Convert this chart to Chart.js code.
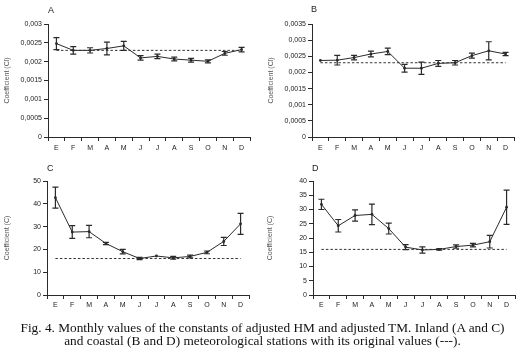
<!DOCTYPE html>
<html lang="en">
<head>
  <meta charset="UTF-8">
  <title>Fig. 4</title>
  <script src="https://cdn.jsdelivr.net/npm/chart.js"></script>
  <style>
    body { margin: 0; width: 525px; height: 361px; background: #fff; position: relative; overflow: hidden; }
    .panel { position: absolute; }
    .letter { position: absolute; font-family: 'Liberation Sans', Arial, sans-serif; font-size: 9px; color: #222; }
    .caption {
      position: absolute; left: 0; top: 321px; width: 525px; text-align: center;
      font-family: 'Liberation Serif', 'Times New Roman', serif; font-size: 13.3px; line-height: 13px; color: #111;
    }
  </style>
</head>
<body>

<div class="panel" style="left:0;top:0;width:262px;height:160px"><canvas id="chartA"></canvas></div>
<div class="panel" style="left:262px;top:0;width:263px;height:160px"><canvas id="chartB"></canvas></div>
<div class="panel" style="left:0;top:155px;width:262px;height:160px"><canvas id="chartC"></canvas></div>
<div class="panel" style="left:262px;top:155px;width:263px;height:160px"><canvas id="chartD"></canvas></div>

<div class="letter" style="left:48px;top:5px">A</div>
<div class="letter" style="left:311px;top:4px">B</div>
<div class="letter" style="left:47px;top:163px">C</div>
<div class="letter" style="left:312px;top:163px">D</div>

<div class="caption">Fig. 4. Monthly values of the constants of adjusted HM and adjusted TM. Inland (A and C)<br>and coastal (B and D) meteorological stations with its original values (---).</div>

<script>
  const months = ['E', 'F', 'M', 'A', 'M', 'J', 'J', 'A', 'S', 'O', 'N', 'D'];

  // A: inland, Cl
  const aMean = [0.00248, 0.00230, 0.00230, 0.00235, 0.00242, 0.00210, 0.00214, 0.00207, 0.00204, 0.00201, 0.00222, 0.00232];
  const aErr  = [0.00016, 0.00010, 0.00007, 0.00017, 0.00012, 0.00006, 0.00006, 0.00005, 0.00005, 0.00004, 0.00005, 0.00006];
  const aRef = 0.0023;
  const yTicksA = ['0', '0,0005', '0,001', '0,0015', '0,002', '0,0025', '0,003'];

  // B: coastal, Cl
  const bMean = [0.00237, 0.00238, 0.00246, 0.00257, 0.00265, 0.00213, 0.00213, 0.00228, 0.00230, 0.00252, 0.00267, 0.00257];
  const bErr  = [0.00002, 0.00015, 0.00007, 0.00009, 0.00010, 0.00012, 0.00019, 0.00009, 0.00007, 0.00008, 0.00028, 0.00005];
  const bRef = 0.0023;
  const yTicksB = ['0', '0,0005', '0,001', '0,0015', '0,002', '0,0025', '0,003', '0,0035'];

  // C: inland, C
  const cMean = [42.7, 27.6, 27.8, 22.6, 19.0, 16.0, 17.1, 16.3, 16.9, 18.7, 23.5, 31.2];
  const cErr  = [4.6, 2.8, 2.7, 0.5, 1.0, 0.5, 0.3, 0.6, 0.6, 0.6, 1.8, 4.6];
  const cRef = 16;
  const yTicksC = ['0', '10', '20', '30', '40', '50'];

  // D: coastal, C
  const dMean = [31.8, 24.3, 27.9, 28.3, 23.3, 16.8, 15.8, 16.0, 17.0, 17.5, 18.7, 30.8];
  const dErr  = [1.8, 2.2, 2.0, 3.6, 1.9, 0.9, 1.1, 0.3, 0.6, 0.6, 2.2, 6.0];
  const dRef = 16;
  const yTicksD = ['0', '5', '10', '15', '20', '25', '30', '35', '40'];

  const ink = '#2a2a2a';
  const font = { family: "'Liberation Sans', Arial, sans-serif", size: 7 };

  // vertical error bars with caps, drawn through the y scale
  const errorBars = {
    id: 'errorBars',
    afterDatasetsDraw(chart, args, opts) {
      const errs = opts.errs;
      if (!errs) return;
      const meta = chart.getDatasetMeta(1);
      const y = chart.scales.y;
      const vals = chart.data.datasets[1].data;
      const c = chart.ctx;
      c.save();
      c.strokeStyle = ink;
      c.lineWidth = 1.2;
      meta.data.forEach((pt, i) => {
        if (!errs[i]) return;
        const y1 = y.getPixelForValue(vals[i] + errs[i]);
        const y2 = y.getPixelForValue(vals[i] - errs[i]);
        if (y2 - y1 < 1.5) return;
        c.beginPath();
        c.moveTo(pt.x, y1); c.lineTo(pt.x, y2);
        c.moveTo(pt.x - 3, y1); c.lineTo(pt.x + 3, y1);
        c.moveTo(pt.x - 3, y2); c.lineTo(pt.x + 3, y2);
        c.stroke();
      });
      c.restore();
    }
  };

  function makeChart(id, mean, errs, ref, max, step, tickLabels, yTitle, g) {
    return new Chart(document.getElementById(id), {
      type: 'line',
      data: {
        labels: months,
        datasets: [
          {
            data: months.map(() => ref),
            borderColor: '#333',
            borderWidth: 1,
            borderDash: [2.5, 2],
            pointRadius: 0
          },
          {
            data: mean,
            borderColor: ink,
            borderWidth: 1,
            pointRadius: 1.4,
            pointBackgroundColor: ink,
            pointBorderWidth: 0,
            tension: 0
          }
        ]
      },
      options: {
        responsive: true,
        maintainAspectRatio: false,
        animation: false,
        layout: { padding: { top: g.top, right: g.right, left: 0, bottom: 0 } },
        plugins: {
          legend: { display: false },
          tooltip: { enabled: false },
          errorBars: { errs: errs }
        },
        scales: {
          x: {
            type: 'category',
            offset: true,
            grid: { offset: true, drawOnChartArea: false, drawTicks: true, tickLength: 4, color: ink },
            border: { display: true, color: ink, width: 1 },
            ticks: { font: font, color: '#222', padding: g.xpad, maxRotation: 0, autoSkip: false },
            afterFit: s => { s.height = g.xh; }
          },
          y: {
            min: 0,
            max: max,
            grid: { drawOnChartArea: false, drawTicks: true, tickLength: 4, color: ink },
            border: { display: true, color: ink, width: 1 },
            ticks: {
              stepSize: step,
              font: font,
              color: '#222',
              padding: 2,
              callback: (v, i) => tickLabels[i]
            },
            title: { display: true, text: yTitle, font: font, color: '#555', padding: { top: g.tpad, bottom: 0 } },
            afterFit: s => { s.width = g.yw; }
          }
        }
      },
      plugins: [errorBars]
    });
  }

  makeChart('chartA', aMean, aErr, aRef, 0.003, 0.0005, yTicksA, 'Coefficient (Cl)', { top: 24, right: 12, xh: 23, yw: 48, xpad: 3, tpad: 3 });
  makeChart('chartB', bMean, bErr, bRef, 0.0035, 0.0005, yTicksB, 'Coefficient (Cl)', { top: 24, right: 11, xh: 23, yw: 50, xpad: 3, tpad: 5 });
  makeChart('chartC', cMean, cErr, cRef, 50, 10, yTicksC, 'Coefficient (C)', { top: 26, right: 13, xh: 20, yw: 47, xpad: 2, tpad: 3 });
  makeChart('chartD', dMean, dErr, dRef, 40, 5, yTicksD, 'Coefficient (C)', { top: 26, right: 10, xh: 20, yw: 51, xpad: 2, tpad: 4 });
</script>

</body>
</html>
